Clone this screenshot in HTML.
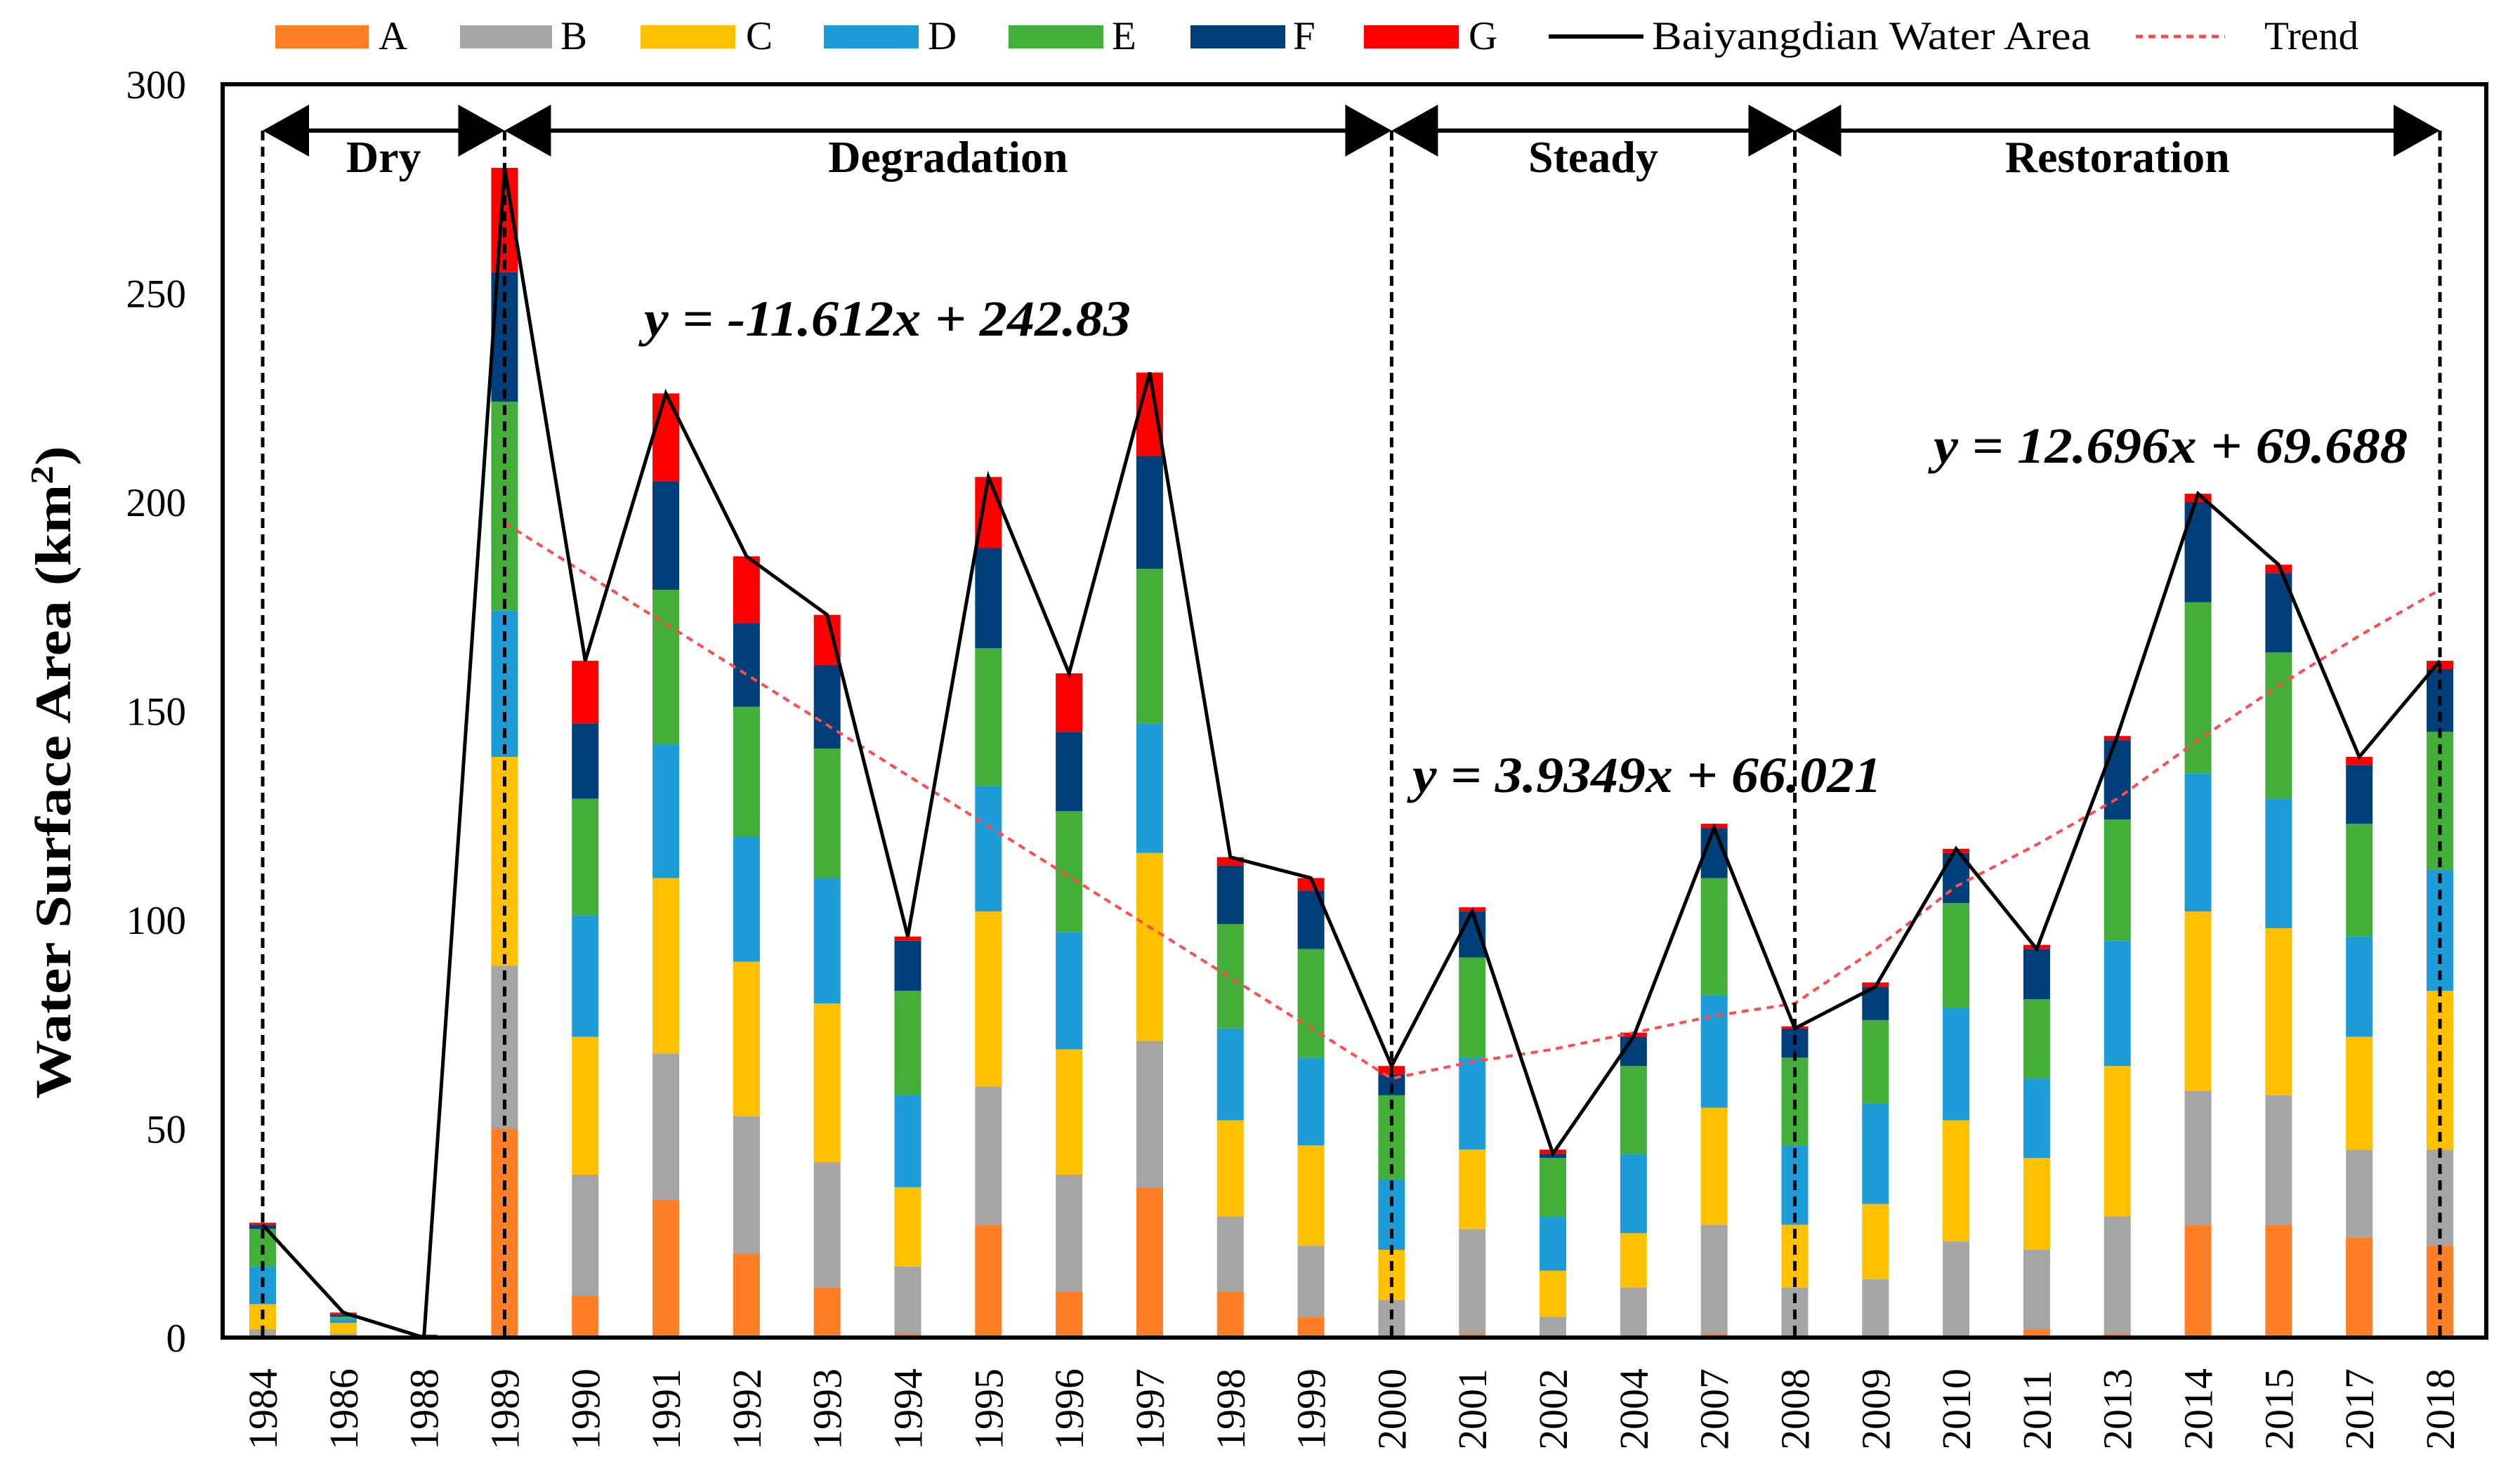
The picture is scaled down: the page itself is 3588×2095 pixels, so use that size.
<!DOCTYPE html>
<html><head><meta charset="utf-8"><style>
html,body{margin:0;padding:0;background:#fff;}
svg{display:block;font-family:"Liberation Serif",serif;}
</style></head><body>
<svg id="chart" width="3588" height="2095" viewBox="0 0 3588 2095" xmlns="http://www.w3.org/2000/svg">
<g id="legend" font-size="57" fill="#000">
  <g><rect x="392" y="36" width="133" height="33" fill="#FF7F27"/><text x="539" y="70">A</text></g>
  <g><rect x="655" y="36" width="131" height="33" fill="#A5A5A5"/><text x="798" y="70">B</text></g>
  <g><rect x="912" y="36" width="135" height="33" fill="#FFC000"/><text x="1062" y="70">C</text></g>
  <g><rect x="1173" y="36" width="135" height="33" fill="#1E9CD7"/><text x="1321" y="70">D</text></g>
  <g><rect x="1436" y="36" width="135" height="33" fill="#43AE38"/><text x="1583" y="70">E</text></g>
  <g><rect x="1695" y="36" width="135" height="33" fill="#003F7A"/><text x="1841" y="70">F</text></g>
  <g><rect x="1942" y="36" width="135" height="33" fill="#FF0000"/><text x="2091" y="70">G</text></g>
  <g><line x1="2205" y1="52" x2="2340" y2="52" stroke="#000" stroke-width="6"/><text x="2352" y="70" textLength="625" lengthAdjust="spacingAndGlyphs">Baiyangdian Water Area</text></g>
  <g><line x1="3041" y1="52" x2="3168" y2="52" stroke="#FF4B4B" stroke-width="5" stroke-dasharray="10,8"/><text x="3224" y="70">Trend</text></g>
</g>
<g id="plot"></g>
<rect x="317" y="120" width="3223" height="1785" fill="none" stroke="#000" stroke-width="6"/>
<text transform="translate(100,1100) rotate(-90)" text-anchor="middle" font-size="72" font-weight="bold" textLength="930" lengthAdjust="spacingAndGlyphs">Water Surface Area (km<tspan dy="-25" font-size="46">2</tspan><tspan dy="25">)</tspan></text>
</svg>
<script>
const years=["1984","1986","1988","1989","1990","1991","1992","1993","1994","1995","1996","1997","1998","1999","2000","2001","2002","2004","2007","2008","2009","2010","2011","2013","2014","2015","2017","2018"];
const seriesA=[0,0,0,50,10,33,20,12,1,27,11,36,11,5,0,1,0,0,1,0,0,0,2,1,27,27,24,22];
const seriesB=[2,1,0,39,29,35,33,30,16,33,28,35,18,17,9,25,5,12,26,12,14,23,19,28,32,31,21,23];
const seriesC=[6,2.5,0,50,33,42,37,38,19,42,30,45,23,24,12,19,11,13,28,15,18,29,22,36,43,40,27,38];
const seriesD=[9,1,0,35,29,32,30,30,22,30,28,31,22,21,17,22,13,19,27,19,24,27,19,30,33,31,24,29];
const seriesE=[9,0.5,0,50,28,37,31,31,25,33,29,37,25,26,20,24,14,21,28,21,20,25,19,29,41,35,27,33];
const seriesF=[1,0.5,0.7,31,18,26,20,20,12,24,19,27,14,14,5,11,1,7,12,7,8,12,12,19,24,19,14,15];
const seriesG=[0.5,0.5,0,25,15,21,16,12,1,17,14,20,2,3,2,1,1,1,1,0.5,1,1,1,1,2,2,2,2];
const waterArea=[27,6,0,280,162,226,187,173,96,206,159,231,115,110,65,102,44,72,122,74,84,117,93,144,202,185,139,162];
const trendIdx=[3,14,15,16,17,18,19,20,21,22,23,24,25,26,27];
const trendVal=[195,62,66,69,73,77,80,93,108,118,129,143,156,168,179];
const yTicks=[0,50,100,150,200,250,300];
const phaseNames=["Dry","Degradation","Steady","Restoration"];
const phaseBounds=[0,3,14,19,27];
const eqTexts=["y = -11.612x + 242.83","y = 3.9349x + 66.021","y = 12.696x + 69.688"];

const NS="http://www.w3.org/2000/svg";
const L=317,R=3540,T=120,B=1905;
const x0=374,step=(3474-374)/27,barW=38;
function xs(i){return x0+i*step;}
function ys(v){return B-(v/300)*(B-T);}
const plot=document.getElementById('plot');
function mk(tag,attrs,parent){const e=document.createElementNS(NS,tag);for(const k in attrs)e.setAttribute(k,attrs[k]);(parent||plot).appendChild(e);return e;}

// y ticks
yTicks.forEach(t=>{
  const e=mk('text',{x:265,y:ys(t)+20,'text-anchor':'end','font-size':57});
  
  
  e.textContent=t;
});
// bars
const series=[seriesA,seriesB,seriesC,seriesD,seriesE,seriesF,seriesG];
const colors=["#FF7F27","#A5A5A5","#FFC000","#1E9CD7","#43AE38","#003F7A","#FF0000"];
const names=["a","b","c","d","e","f","g"];
years.forEach((yr,i)=>{
  let cum=0;
  series.forEach((s,k)=>{
    const v=s[i]; if(v<=0){return;}
    const r=mk('rect',{x:xs(i)-barW/2,y:ys(cum+v),width:barW,height:ys(cum)-ys(cum+v),fill:colors[k]});
    
    
    cum+=v;
  });
  const t=mk('text',{transform:`translate(${xs(i)+20},2065) rotate(-90)`,'font-size':58});
  
  
  t.textContent=yr;
});
// trend
const tp=trendIdx.map((ix,j)=>xs(ix)+','+ys(trendVal[j])).join(' ');
const tl=mk('polyline',{points:tp,fill:'none',stroke:'#FF4B4B','stroke-width':4,'stroke-dasharray':'10,8'});


// water line
const wp=waterArea.map((v,i)=>xs(i)+','+ys(v)).join(' ');
const wl=mk('polyline',{points:wp,fill:'none',stroke:'#000','stroke-width':5,'stroke-linejoin':'miter'});


// phases
const ay=186;
phaseBounds.forEach(ix=>{
  const v=mk('line',{x1:xs(ix),y1:ay,x2:xs(ix),y2:B,stroke:'#000','stroke-width':5,'stroke-dasharray':'14,9'});
  
  
});
phaseNames.forEach((n,k)=>{
  const a=xs(phaseBounds[k]),b=xs(phaseBounds[k+1]);
  const g=mk('g',{});
  
  
  mk('line',{x1:a+40,y1:ay,x2:b-40,y2:ay,stroke:'#000','stroke-width':6},g);
  mk('polygon',{points:`${a},${ay} ${a+66},${ay-37} ${a+66},${ay+37}`,fill:'#000'},g);
  mk('polygon',{points:`${b},${ay} ${b-66},${ay-37} ${b-66},${ay+37}`,fill:'#000'},g);
  const t=mk('text',{x:(a+b)/2,y:245,'text-anchor':'middle','font-size':64,'font-weight':'bold'},g);
  t.textContent=n;
});
// equations
const eqPos=[[917,478,693],[2011,1128,668],[2753,659,675]];
eqTexts.forEach((s,k)=>{
  const t=mk('text',{x:eqPos[k][0],y:eqPos[k][1],'font-size':72,'font-weight':'bold','font-style':'italic',textLength:eqPos[k][2],lengthAdjust:'spacingAndGlyphs'});
  
  
  t.textContent=s;
});
</script>
</body></html>
